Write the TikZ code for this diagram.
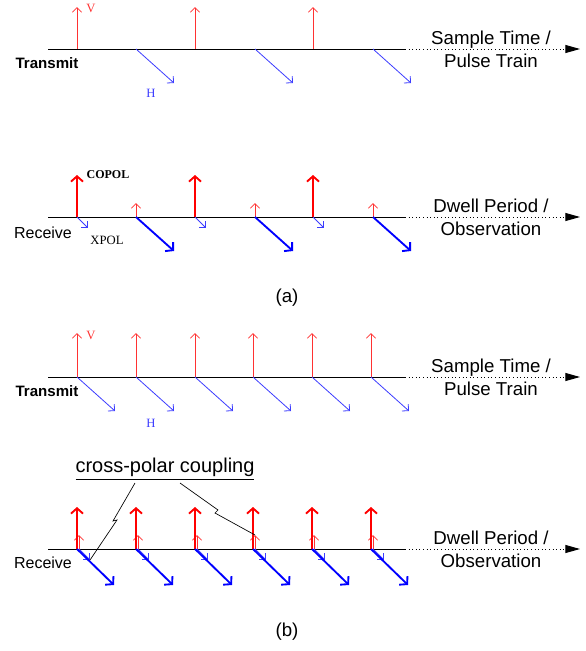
\documentclass[tikz,border=0pt]{standalone}
\usepackage{fontspec}
\setsansfont{Liberation Sans}
\newfontfamily\serlab{Liberation Serif}
\usetikzlibrary{arrows,arrows.meta}
\definecolor{vred}{RGB}{255,50,50}
\definecolor{hblue}{RGB}{60,60,255}
\tikzstyle{axisline} = [draw, black, line width=0.7pt]
\tikzstyle{axisend} = [draw, black, dotted, line width=0.7pt, -{Triangle[length=11pt,width=6pt]}]
\tikzstyle{vthin} = [draw, vred, line width=0.6pt, -{Straight Barb[length=3.5pt,width=7pt]}]
\tikzstyle{hthin} = [draw, hblue, line width=0.6pt, -{Straight Barb[length=3.5pt,width=7pt]}]
\tikzstyle{vthick} = [draw, red, line width=1.4pt, -{Straight Barb[length=4pt,width=9pt]}]
\tikzstyle{hthick} = [draw, blue, line width=1.4pt, -{Straight Barb[length=4pt,width=9pt]}]
\tikzstyle{sidelab} = [font=\sffamily\fontsize{12}{14}\selectfont]
\tikzstyle{axlab} = [align=center, font=\sffamily\fontsize{14}{17}\selectfont]
\tikzstyle{pollab} = [font=\serlab\fontsize{9.5}{11}\selectfont, inner sep=0pt]
\tikzstyle{bolt} = [draw, black, line width=0.5pt]

\begin{document}
\begin{tikzpicture}[x=0.75pt,y=-0.75pt]
		\useasboundingbox (0,0) rectangle (586,651);
		
		% (a) transmit
		\coordinate (atS) at (48,49);
		\coordinate (atM) at (405,49);
		\coordinate (atE) at (580,49);
		\draw [axisline] (atS) -- (atM);
		\draw [axisend] (atM) -- (atE);
		\node [sidelab, font=\sffamily\bfseries\fontsize{11.3}{13}\selectfont] (atlab) at (47,63) {Transmit};
		\node [axlab] (atcap) at (491,49) {Sample Time /\\Pulse Train};
		\foreach \x in {77,195,313} {
			\coordinate (atv\x) at (\x,49);
			\coordinate (atvt\x) at (\x,7);
			\draw [vthin] (atv\x) -- (atvt\x);
		}
		\foreach \x in {136,255,373} {
			\coordinate (ath\x) at (\x,49);
			\coordinate (athe\x) at (\x+38,83);
			\draw [hthin] (ath\x) -- (athe\x);
		}
		\node [pollab, text=vred] (atV) at (91,8) {V};
		\node [pollab, text=hblue] (atH) at (151,93) {H};
		
		% (a) receive
		\coordinate (arS) at (48,217);
		\coordinate (arM) at (405,217);
		\coordinate (arE) at (580,217);
		\draw [axisline] (arS) -- (arM);
		\draw [axisend] (arM) -- (arE);
		\node [sidelab] (arlab) at (43,233) {Receive};
		\node [axlab] (arcap) at (491,217) {Dwell Period /\\Observation};
		\foreach \x in {77,195,313} {
			\coordinate (arv\x) at (\x,217);
			\coordinate (arvt\x) at (\x,175);
			\coordinate (arhe\x) at (\x+11,228);
			\draw [vthick] (arv\x) -- (arvt\x);
			\draw [hthin] (arv\x) -- (arhe\x);
		}
		\foreach \x in {136,255,373} {
			\coordinate (arh\x) at (\x,217);
			\coordinate (arvs\x) at (\x,203);
			\coordinate (arhe\x) at (\x+38,251);
			\draw [vthin] (arh\x) -- (arvs\x);
			\draw [hthick] (arh\x) -- (arhe\x);
		}
		\node [pollab, font=\serlab\bfseries\fontsize{9}{11}\selectfont] (copol) at (108,175) {COPOL};
		\node [pollab] (xpol) at (107,240) {XPOL};
		
		\node [axlab] (capa) at (287,298) {(a)};
		
		% (b) transmit
		\coordinate (btS) at (48,377);
		\coordinate (btM) at (405,377);
		\coordinate (btE) at (580,377);
		\draw [axisline] (btS) -- (btM);
		\draw [axisend] (btM) -- (btE);
		\node [sidelab, font=\sffamily\bfseries\fontsize{11.3}{13}\selectfont] (btlab) at (47,391) {Transmit};
		\node [axlab] (btcap) at (491,377) {Sample Time /\\Pulse Train};
		\foreach \x in {77,136,195,253,312,371} {
			\coordinate (bt\x) at (\x,377);
			\coordinate (btvt\x) at (\x,333);
			\coordinate (bthe\x) at (\x+38,411);
			\draw [vthin] (bt\x) -- (btvt\x);
			\draw [hthin] (bt\x) -- (bthe\x);
		}
		\node [pollab, text=vred] (btV) at (91,335) {V};
		\node [pollab, text=hblue] (btH) at (151,423) {H};
		
		% (b) receive
		\coordinate (brS) at (48,549);
		\coordinate (brM) at (405,549);
		\coordinate (brE) at (580,549);
		\draw [axisline] (brS) -- (brM);
		\draw [axisend] (brM) -- (brE);
		\node [sidelab] (brlab) at (43,563) {Receive};
		\node [axlab] (brcap) at (491,549) {Dwell Period /\\Observation};
		\foreach \x in {77,136,195,253,312,371} {
			\coordinate (br\x) at (\x,549);
			\coordinate (brs\x) at (\x+2,549);
			\coordinate (brvt\x) at (\x,507);
			\coordinate (brvs\x) at (\x+2,535);
			\coordinate (brhs\x) at (\x+13,560);
			\coordinate (brhe\x) at (\x+37,585);
			\draw [vthin] (brs\x) -- (brvs\x);
			\draw [hthin] (brs\x) -- (brhs\x);
			\draw [vthick] (br\x) -- (brvt\x);
			\draw [hthick] (br\x) -- (brhe\x);
		}
		
		% cross-polar coupling
		\node [axlab, font=\sffamily\fontsize{15}{17}\selectfont] (cpl) at (165,469) {\underline{cross-polar coupling}};
		\coordinate (bl1) at (135,483);
		\coordinate (bl2) at (180,483);
		\draw [bolt] (bl1) -- (113,521) -- (117,520) -- (brhs77);
		\draw [bolt] (bl2) -- (218,510) -- (215,513) -- (brvs253);
		
		\node [axlab] (capb) at (287,632) {(b)};
		
		\end{tikzpicture}
\end{document}
